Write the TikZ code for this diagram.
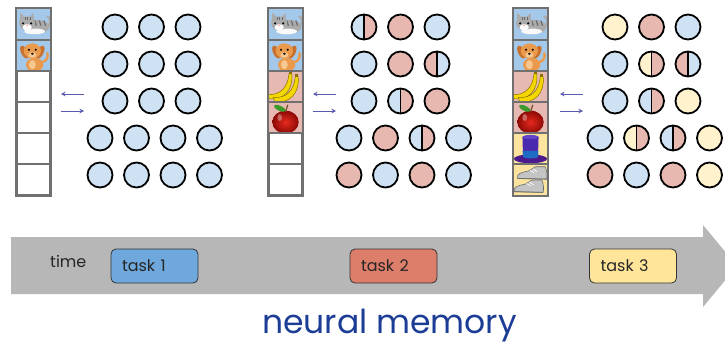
\documentclass[tikz,border=0pt]{standalone}
\usepackage{fontspec}
\setmainfont{Poppins}
\usetikzlibrary{arrows.meta}

% memory unit colours
\definecolor{nblue}{HTML}{CFE2F3}
\definecolor{npink}{HTML}{E6B8AF}
\definecolor{nyell}{HTML}{FFF2CC}
% cell backgrounds
\definecolor{cellblue}{HTML}{A4C8EA}
\definecolor{cellpink}{HTML}{E6BAB3}
\definecolor{cellyell}{HTML}{FCE49E}
% timeline
\definecolor{timegray}{HTML}{B7B7B7}
\definecolor{taskblue}{HTML}{6FA8DC}
\definecolor{taskred}{HTML}{DD7E6B}
\definecolor{taskyell}{HTML}{FFE599}
\definecolor{titleblue}{HTML}{1C3D96}
\definecolor{linkblue}{HTML}{5A5AAE}
\definecolor{gridgray}{HTML}{707070}
% icon colours
\definecolor{catgray}{HTML}{ABABAB}
\definecolor{catdark}{HTML}{6B6B6B}
\definecolor{dogor}{HTML}{E99A4C}
\definecolor{dogdark}{HTML}{C8702E}
\definecolor{doglight}{HTML}{F6C890}
\definecolor{banyel}{HTML}{F4D600}
\definecolor{banout}{HTML}{8A7200}
\definecolor{applehi}{HTML}{E62A1E}
\definecolor{appledk}{HTML}{8C0A05}
\definecolor{leafg}{HTML}{3C9A2A}
\definecolor{hatcrown}{HTML}{4A2AAE}
\definecolor{hattop}{HTML}{6344C8}
\definecolor{hatbrim}{HTML}{4B1A8C}
\definecolor{hatband}{HTML}{1E6BC4}
\definecolor{shoeg}{HTML}{C4C4C4}
\definecolor{shoed}{HTML}{6E6E6E}

\tikzset{
  neuron/.style={circle, draw=black, line width=1.8pt, minimum size=25pt, inner sep=0pt},
  halves/.style 2 args={neuron, fill=#1,
    path picture={
      \fill[#2] (path picture bounding box.north) rectangle (path picture bounding box.south east);
      \draw[line width=1.8pt] (path picture bounding box.north) -- (path picture bounding box.south);}},
  cB/.style={neuron, fill=nblue},
  cP/.style={neuron, fill=npink},
  cY/.style={neuron, fill=nyell},
  cBP/.style={halves={nblue}{npink}},
  cPB/.style={halves={npink}{nblue}},
  cYP/.style={halves={nyell}{npink}},
  memcell/.style={rectangle, draw=gridgray, line width=1.4pt, minimum width=33pt, minimum height=31pt, inner sep=0pt},
  link/.style={draw=linkblue, line width=1pt, -{Stealth[length=4.5pt,width=4.5pt]}},
  task/.style={rectangle, rounded corners=5pt, draw=black!80, line width=0.8pt,
    minimum height=34pt, text width=65pt, inner xsep=11pt, align=left, font=\fontsize{16}{18}\selectfont, text=black!85},
}

% ---- small pictures for the memory cells (local units, y pointing down) ----
\newcommand\iconcat{%
  \draw[catgray, line width=2.4pt, line cap=round] (12,2) .. controls (16,-1) and (15,-6) .. (12,-7);
  \fill[catgray] (3,2) ellipse (11 and 6);
  \foreach \sx in {1,5,9} \draw[catdark, line width=1.2pt] (\sx,-3.5) -- (\sx+1.5,1);
  \fill[white!95!gray] (1,6) ellipse (9 and 2.5);
  \fill[catgray] (-12,-2) -- (-11.5,-10) -- (-7,-6) -- cycle;
  \fill[catgray] (-4,-6) -- (0,-10) -- (0.5,-2) -- cycle;
  \fill[catgray] (-5.5,-1) ellipse (7 and 6);
  \draw[catdark, line width=0.8pt] (-7,-6.5) -- (-7,-4) (-5,-6.8) -- (-5,-4) (-3,-6.5) -- (-3,-4);
  \fill[white] (-5.5,2.5) ellipse (4 and 2.8);
  \fill[black] (-9,-1) circle (1) (-2,-1) circle (1);
  \fill[pink!80!red] (-5.5,0.8) circle (0.8);
}
\newcommand\icondog{%
  \draw[dogor, line width=2.4pt, line cap=round] (7,6) .. controls (12,5) and (13,1) .. (12,-2);
  \fill[dogor] (1,8) ellipse (7.5 and 6);
  \fill[dogor] (-5,9) rectangle (-1.5,14.5) (2.5,9) rectangle (6,14.5);
  \fill[doglight] (-1,8) ellipse (3 and 4);
  \fill[dogdark, rotate around={25:(-8,-3)}] (-8,-3) ellipse (2.8 and 6);
  \fill[dogdark, rotate around={-25:(6,-3)}] (6,-3) ellipse (2.8 and 6);
  \fill[dogor] (-1,-4) ellipse (7.5 and 6.5);
  \fill[doglight] (-1,-0.5) ellipse (3.5 and 2.5);
  \fill[black] (-4,-5) circle (1) (2,-5) circle (1);
  \fill[black!80!brown] (-1,-1.5) ellipse (1.4 and 1);
}
\newcommand\onebanana{%
  \filldraw[fill=banyel, draw=banout, line width=0.5pt]
    (-13,8) .. controls (-2,9) and (5,2) .. (6,-10) -- (8.5,-10)
    .. controls (10,4) and (1,14) .. (-12,11.5) -- cycle;
  \fill[banout] (6,-10) rectangle (8.5,-12.5);
}
\newcommand\iconbanana{%
  \begin{scope}[shift={(-3,-1)}]\onebanana\end{scope}
  \begin{scope}[shift={(2.5,1.5)}]\onebanana\end{scope}
}
\newcommand\iconapple{%
  \shade[inner color=applehi, outer color=appledk] (0,4) ellipse (11.5 and 10);
  \fill[white, opacity=0.35] (-5,0) ellipse (2 and 3);
  \draw[brown!60!black, line width=1.2pt] (0,-5) -- (2,-11);
  \fill[leafg, rotate around={-25:(-5,-8)}] (-5,-8) ellipse (5.5 and 2.2);
}
\newcommand\iconhat{%
  \fill[hatbrim] (0,9) ellipse (14.5 and 3.8);
  \fill[hatcrown] (-7,-10) -- (7,-10) -- (6.5,7) -- (-6.5,7) -- cycle;
  \fill[hatband] (-6.8,2) -- (6.8,2) -- (6.5,7) -- (-6.5,7) -- cycle;
  \fill[hatband] (0,7) ellipse (6.5 and 1.6);
  \fill[hattop] (0,-10) ellipse (7 and 1.8);
}
\newcommand\oneshoe{%
  \filldraw[fill=shoeg, draw=shoed, line width=0.6pt]
    (-11,3) .. controls (-12,-0.5) and (-8,-1.5) .. (-3,-2.5) -- (2,-5.5) -- (9,-5.5)
    .. controls (10.5,-2) and (10.5,1) .. (10,3.5) -- cycle;
  \draw[shoed, line width=0.8pt] (-11,3) -- (10,3.5);
  \draw[white, line width=0.7pt] (-2,-3) -- (1,-1) (0,-4) -- (3,-2);
}
\newcommand\iconshoes{%
  \begin{scope}[shift={(2,-4.5)}, scale=1.2]\oneshoe\end{scope}
  \begin{scope}[shift={(-1,7)}, scale=1.2]\oneshoe\end{scope}
}
% places a picture in a memory cell, clipped to the cell
\newcommand\putpic[2]{%
  \begin{scope}
    \clip (#1.north west) rectangle (#1.south east);
    \begin{scope}[shift={(#1)}, scale=1.15]#2\end{scope}
  \end{scope}
}

\begin{document}
\begin{tikzpicture}[x=1pt, y=-1pt]
\useasboundingbox (0,0) rectangle (725,346);
\clip (0,0) rectangle (725,346);
\fill[white] (0,0) rectangle (725,346);

% ---------- memory columns ----------
\foreach \p/\cx in {1/33.5, 2/285.5, 3/530.5} {
  \foreach \k in {1,...,6} {
    \node[memcell, fill=white] (m\p-\k) at (\cx, {9+31*(\k-1)+15.5}) {};
  }
}
% task 1 items (all panels)
\foreach \p in {1,2,3} {
  \path[fill=cellblue] (m\p-1.north west) rectangle (m\p-2.south east);
  \putpic{m\p-1}{\iconcat}
  \putpic{m\p-2}{\icondog}
}
% task 2 items
\foreach \p in {2,3} {
  \path[fill=cellpink] (m\p-3.north west) rectangle (m\p-4.south east);
  \putpic{m\p-3}{\iconbanana}
  \putpic{m\p-4}{\iconapple}
}
% task 3 items
\path[fill=cellyell] (m3-5.north west) rectangle (m3-6.south east);
\putpic{m3-5}{\iconhat}
\putpic{m3-6}{\iconshoes}
% cell grid on top
\foreach \p in {1,2,3} {
  \foreach \k in {1,...,6} \draw[gridgray, line width=1.4pt] (m\p-\k.north west) rectangle (m\p-\k.south east);
  \draw[gridgray, line width=2pt] (m\p-1.north west) rectangle (m\p-6.south east);
}

% ---------- read / write arrows ----------
\foreach \p/\dx in {1/0, 2/252, 3/499} {
  \coordinate (r\p a) at (84+\dx, 94);
  \coordinate (r\p b) at (61+\dx, 94);
  \coordinate (w\p a) at (61+\dx, 111);
  \coordinate (w\p b) at (84+\dx, 111);
  \draw[link] (r\p a) -- (r\p b);
  \draw[link] (w\p a) -- (w\p b);
}

% ---------- neural units ----------
\newcommand\unitgrid[3]{% panel, x offset, list of styles
  \foreach \st [count=\i from 0] in {#3} {
    \ifnum\i<9
      \pgfmathsetmacro\ux{#2+115+36.5*mod(\i,3)}
      \pgfmathsetmacro\uy{27+37*int(\i/3)}
    \else
      \pgfmathsetmacro\ux{#2+100+36.5*mod(\i-9,4)}
      \pgfmathsetmacro\uy{27+37*(3+int((\i-9)/4))}
    \fi
    \node[\st] (u#1-\i) at (\ux,\uy) {};
  }
}
\unitgrid{1}{0}{cB,cB,cB, cB,cB,cB, cB,cB,cB, cB,cB,cB,cB, cB,cB,cB,cB}
\unitgrid{2}{249}{cBP,cP,cB, cB,cP,cPB, cB,cBP,cP, cB,cP,cBP,cB, cP,cB,cP,cB}
\unitgrid{3}{500}{cY,cP,cB, cB,cYP,cPB, cB,cBP,cY, cB,cYP,cBP,cY, cP,cB,cP,cY}

% ---------- timeline ----------
\fill[timegray] (11,237) -- (703,237) -- (703,225) -- (737,266) -- (703,307) -- (703,294) -- (11,294) -- cycle;
\node[anchor=base west, font=\fontsize{16}{18}\selectfont, text=black!85, inner sep=0pt] (time) at (50,267) {time};
\node[task, fill=taskblue] (t1) at (154.5,266) {task 1};
\node[task, fill=taskred]  (t2) at (393.5,266) {task 2};
\node[task, fill=taskyell] (t3) at (633,266) {task 3};

\node[anchor=base, font=\fontsize{33}{38}\selectfont, text=titleblue, inner sep=0pt] (title) at (389.5,333) {neural memory};
\end{tikzpicture}
\end{document}
